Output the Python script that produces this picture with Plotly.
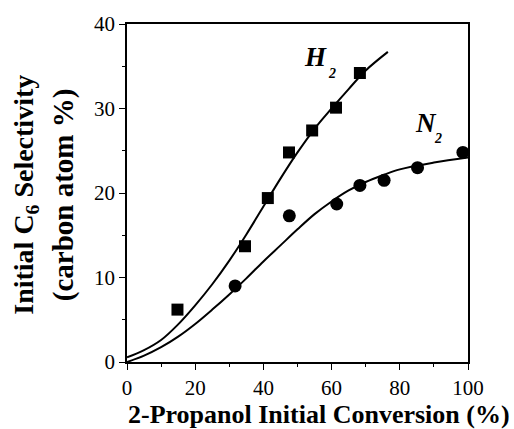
import plotly.graph_objects as go

# Measured points
h2_x = [14.8, 34.6, 41.3, 47.5, 54.3, 61.3, 68.3]
h2_y = [6.2, 13.7, 19.4, 24.8, 27.4, 30.1, 34.2]
n2_x = [31.7, 47.6, 61.5, 68.3, 75.4, 85.2, 98.5]
n2_y = [9.0, 17.3, 18.7, 20.9, 21.5, 23.0, 24.8]

# Fitted curves
h2_fit_x = [0, 5, 10, 15, 20, 25, 30, 35, 40, 45, 50, 55, 60, 65, 70, 76.5]
h2_fit_y = [0.55, 1.4, 2.6, 4.45, 6.7, 9.2, 12.0, 15.1, 18.4, 21.7, 24.8, 27.6, 30.0, 32.3, 34.5, 36.7]
n2_fit_x = [0, 5, 10, 15, 20, 25, 30, 35, 40, 45, 50, 55, 60, 65, 70, 75, 80, 90, 100]
n2_fit_y = [0.0, 0.75, 1.75, 3.0, 4.5, 6.2, 8.0, 9.9, 11.9, 13.8, 15.7, 17.5, 19.0, 20.3, 21.3, 22.1, 22.8, 23.6, 24.2]

x_ticks = [0, 20, 40, 60, 80, 100]
y_ticks = [0, 10, 20, 30, 40]

SERIF = "Liberation Serif, Times New Roman, Times, serif"

fig = go.Figure()
fig.add_trace(go.Scatter(x=h2_fit_x, y=h2_fit_y, mode="lines",
                         line=dict(color="black", width=2, shape="spline"),
                         showlegend=False, hoverinfo="skip"))
fig.add_trace(go.Scatter(x=n2_fit_x, y=n2_fit_y, mode="lines",
                         line=dict(color="black", width=2, shape="spline"),
                         showlegend=False, hoverinfo="skip"))
fig.add_trace(go.Scatter(x=h2_x, y=h2_y, mode="markers",
                         marker=dict(symbol="square", size=12, color="black"),
                         showlegend=False, cliponaxis=False))
fig.add_trace(go.Scatter(x=n2_x, y=n2_y, mode="markers",
                         marker=dict(symbol="circle", size=13, color="black"),
                         showlegend=False, cliponaxis=False))

axis_common = dict(
    showgrid=False, zeroline=False, showline=True, linecolor="black",
    linewidth=1.5, mirror=True, ticks="outside", ticklen=6, tickwidth=1.2,
    tickcolor="black", tickfont=dict(family=SERIF, size=21, color="black"),
)
fig.update_xaxes(range=[0, 100], tickvals=x_ticks,
                 minor=dict(ticks="outside", ticklen=3, tickwidth=1.2,
                            tickcolor="black", dtick=10, tick0=0),
                 **axis_common)
fig.update_yaxes(range=[0, 40], tickvals=y_ticks,
                 minor=dict(ticks="outside", ticklen=3, tickwidth=1.2,
                            tickcolor="black", dtick=5, tick0=0),
                 **axis_common)

annotations = [
    dict(text="<b>2-Propanol Initial Conversion (%)</b>", xref="paper", yref="paper",
         x=0.562, y=-0.154, xanchor="center", yanchor="middle", showarrow=False,
         borderpad=0, font=dict(family=SERIF, size=26, color="black")),
    dict(text="<b>Initial C<sub>6</sub> Selectivity</b>", xref="paper", yref="paper",
         x=-0.296, y=0.495, xanchor="center", yanchor="middle", showarrow=False,
         textangle=-90, font=dict(family=SERIF, size=28, color="black")),
    dict(text="<b>(carbon atom %)</b>", xref="paper", yref="paper",
         x=-0.187, y=0.494, xanchor="center", yanchor="middle", showarrow=False,
         textangle=-90, font=dict(family=SERIF, size=29, color="black")),
    dict(text="<b><i>H</i></b>", x=55.4, y=36.1, xanchor="center", yanchor="middle",
         showarrow=False, font=dict(family=SERIF, size=27, color="black")),
    dict(text="<b><i>2</i></b>", x=60.0, y=34.2, xanchor="center", yanchor="middle",
         showarrow=False, font=dict(family=SERIF, size=14, color="black")),
    dict(text="<b><i>N</i></b>", x=87.8, y=28.3, xanchor="center", yanchor="middle",
         showarrow=False, font=dict(family=SERIF, size=27, color="black")),
    dict(text="<b><i>2</i></b>", x=91.1, y=26.4, xanchor="center", yanchor="middle",
         showarrow=False, font=dict(family=SERIF, size=14, color="black")),
]

fig.update_layout(
    width=514, height=429,
    margin=dict(l=127, r=46, t=20, b=67),
    paper_bgcolor="white", plot_bgcolor="white",
    annotations=annotations,
    showlegend=False,
)

fig.write_html("out.html", config={"displayModeBar": False},
               post_script="document.body.style.margin='0px';document.body.style.overflow='hidden';")
